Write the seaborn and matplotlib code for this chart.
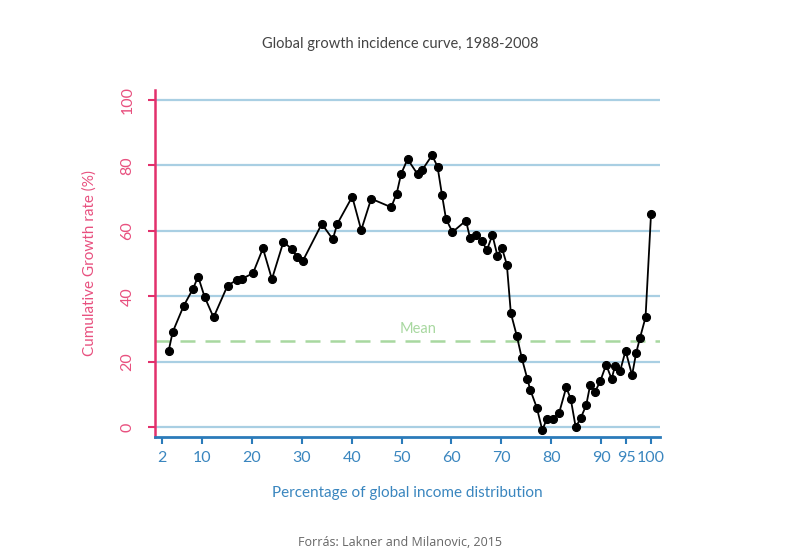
import matplotlib.pyplot as plt
import seaborn as sns
import pandas as pd

# percentile of global income distribution
percentile = [3.3, 4.1, 6.3, 8.2, 9.2, 10.5, 12.3, 15.1, 17.0, 18.0,
              20.2, 22.2, 24.0, 26.3, 28.0, 29.1, 30.2, 34.0, 36.2, 37.1,
              40.1, 41.9, 43.9, 47.9, 49.0, 49.9, 51.2, 53.2, 54.1, 56.1,
              57.2, 58.1, 58.9, 60.2, 62.9, 63.7, 64.9, 66.1, 67.1, 68.2,
              69.2, 70.1, 71.1, 71.9, 73.1, 74.1, 75.2, 75.8, 77.1, 78.2,
              79.1, 80.4, 81.6, 83.0, 83.9, 84.9, 85.9, 87.0, 87.8, 88.8,
              89.8, 91.0, 92.1, 92.8, 93.8, 94.9, 96.2, 97.0, 97.8, 98.9,
              100.0]
growth = [23.3, 29.0, 37.0, 42.3, 46.0, 39.8, 33.5, 43.2, 45.0, 45.3,
          47.0, 54.6, 45.2, 56.6, 54.4, 51.9, 50.8, 62.1, 57.4, 62.1,
          70.4, 60.2, 69.8, 67.2, 71.3, 77.4, 81.9, 77.3, 78.5, 83.1,
          79.6, 70.9, 63.6, 59.6, 63.1, 57.9, 58.7, 56.8, 54.1, 58.7,
          52.4, 54.8, 49.6, 34.8, 27.8, 21.0, 14.7, 11.3, 5.9, -1.0,
          2.4, 2.4, 4.4, 12.1, 8.6, -0.1, 2.7, 6.6, 12.8, 10.8,
          13.9, 19.0, 14.7, 18.7, 17.1, 23.3, 15.8, 22.5, 27.3, 33.5,
          65.1]
mean_growth = 26.3

x_ticks = [2, 10, 20, 30, 40, 50, 60, 70, 80, 90, 95, 100]
y_ticks = [0, 20, 40, 60, 80, 100]

df = pd.DataFrame({"pct": percentile, "growth": growth})

sns.set_style("white")
plt.rcParams['font.family'] = ['Lato', 'DejaVu Sans']

pink = "#e2306c"
blue = "#2b7bba"
label_blue = "#3a86bf"
grid_blue = "#a9cfe3"

fig = plt.figure(figsize=(8, 5.58), dpi=100)
ax = fig.add_axes([0.194, 0.217, 0.631, 0.622])

for yv in y_ticks:
    ax.axhline(yv, color=grid_blue, lw=1.6, zorder=0)

ax.axhline(mean_growth, color="#a8d8a0", lw=1.8, ls=(0, (6, 4)), zorder=1)
ax.text(53.3, mean_growth + 1.6, "Mean", color="#a8d8a0", fontsize=10.5,
        ha="center", va="bottom")

sns.lineplot(data=df, x="pct", y="growth", ax=ax, color="black", lw=1.3,
             marker="o", markersize=5.8, markeredgecolor="black", zorder=3)

ax.set_xlim(0.6, 101.8)
ax.set_ylim(-3.06, 103.1)
ax.set_xticks(x_ticks)
ax.set_yticks(y_ticks)
ax.set_yticklabels([str(v) for v in y_ticks], rotation=90, va="center")

for side in ["top", "right"]:
    ax.spines[side].set_visible(False)
ax.spines["left"].set_color(pink)
ax.spines["left"].set_linewidth(1.8)
ax.spines["bottom"].set_color(blue)
ax.spines["bottom"].set_linewidth(2)

ax.tick_params(axis="y", colors=pink, labelsize=11.5, length=5, width=1.5,
               direction="out", left=True, pad=10)
ax.tick_params(axis="x", colors=blue, labelsize=11.5, length=5, width=1.5,
               direction="out", bottom=True, pad=5)
for lab in ax.get_xticklabels():
    lab.set_color(label_blue)
for lab in ax.get_yticklabels():
    lab.set_color("#e8507f")

ax.set_xlabel("Percentage of global income distribution", color=label_blue,
              fontsize=11, labelpad=15)
ax.set_ylabel("Cumulative Growth rate (%)", color="#e8507f", fontsize=11,
              labelpad=17)

fig.text(0.5, 0.921, "Global growth incidence curve, 1988-2008",
         ha="center", va="center", fontsize=10.5, color="#444444")
fig.text(0.5, 0.027, "Forrás: Lakner and Milanovic, 2015", ha="center",
         va="center", fontsize=9, color="#666666", family=["Open Sans", "DejaVu Sans"])

fig.savefig("out.png", dpi=100)
